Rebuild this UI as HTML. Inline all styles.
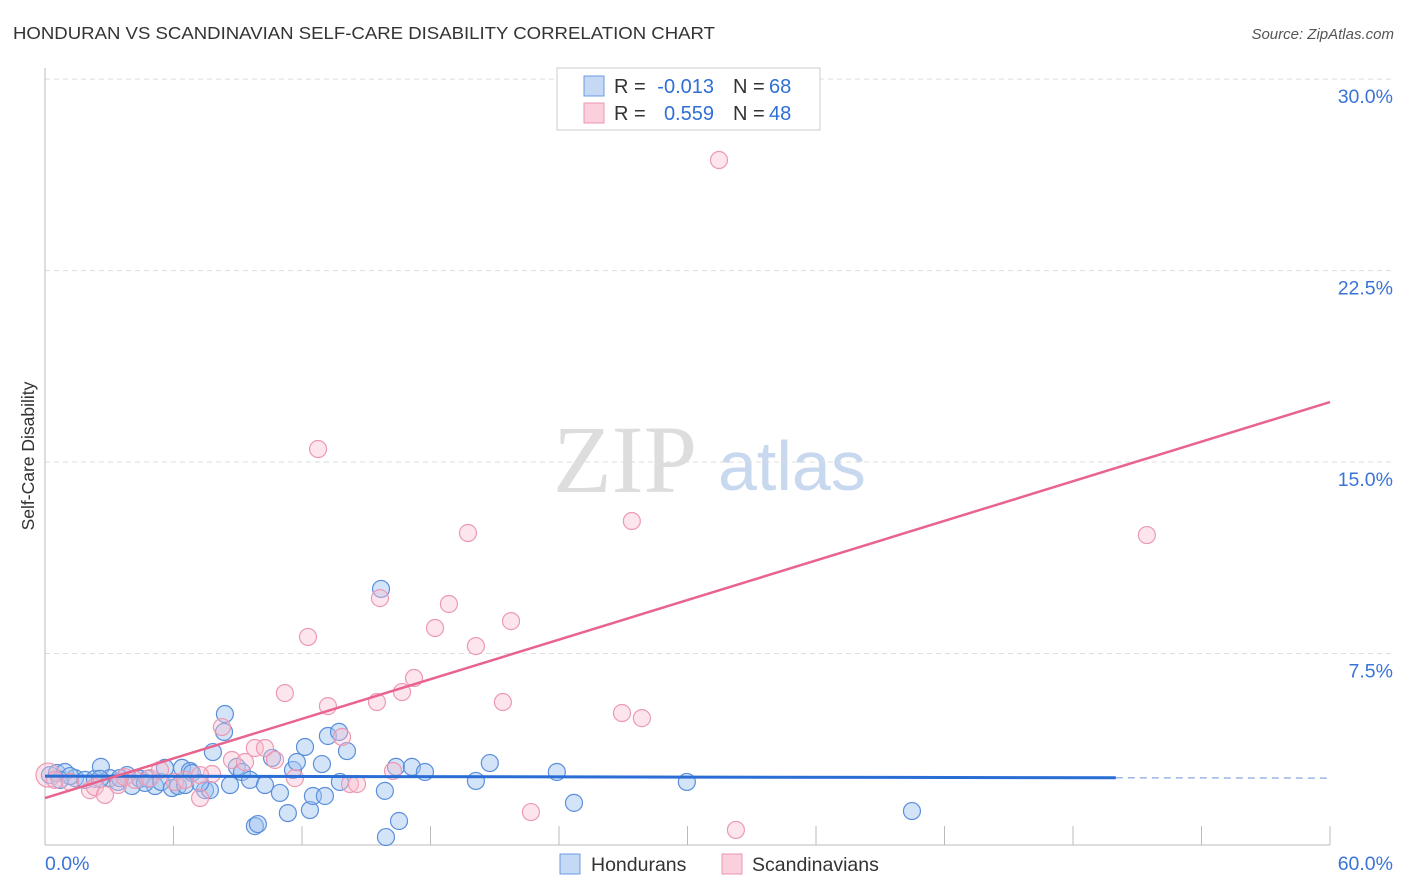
<!DOCTYPE html>
<html><head><meta charset="utf-8"><style>
body{margin:0;background:#fff;font-family:"Liberation Sans",sans-serif;}
svg{display:block}
</style></head><body>
<svg id="c" width="1406" height="892">
<text x="13" y="39" font-size="17.5" fill="#333" textLength="702" lengthAdjust="spacingAndGlyphs">HONDURAN VS SCANDINAVIAN SELF-CARE DISABILITY CORRELATION CHART</text>
<text x="1394" y="39" font-size="15" fill="#555" font-style="italic" text-anchor="end">Source: ZipAtlas.com</text>
<text transform="translate(34,456) rotate(-90)" font-size="17.5" fill="#333" text-anchor="middle">Self-Care Disability</text>
<g>
<text x="553" y="492" font-family="Liberation Serif,serif" font-size="96" fill="#ddd">ZIP</text>
<text x="718" y="490" font-size="70" fill="#c7d8ef">atlas</text>
</g>
<g id="grid"></g><g id="axes"></g><g id="pts"></g><g id="lines"></g>
<g>
<rect x="557" y="68" width="263" height="62" fill="#fff" stroke="#ccc"/>
<rect x="584" y="76" width="20" height="20" fill="#c5d9f5" stroke="#6a9be0"/>
<rect x="584" y="103" width="20" height="20" fill="#fbd0dc" stroke="#ee96b0"/>
<g font-size="20" fill="#333">
<text x="614" y="93">R =</text><text x="714" y="93" fill="#2f6fd6" text-anchor="end">-0.013</text>
<text x="733" y="93">N =</text><text x="769" y="93" fill="#2f6fd6">68</text>
<text x="614" y="120">R =</text><text x="714" y="120" fill="#2f6fd6" text-anchor="end">0.559</text>
<text x="733" y="120">N =</text><text x="769" y="120" fill="#2f6fd6">48</text>
</g>
</g>
<g>
<rect x="560" y="854" width="20" height="20" fill="#c5d9f5" stroke="#6a9be0"/>
<text x="591" y="871" font-size="19.5" fill="#333">Hondurans</text>
<rect x="722" y="854" width="20" height="20" fill="#fbd0dc" stroke="#ee96b0"/>
<text x="752" y="871" font-size="19.5" fill="#333">Scandinavians</text>
</g>
</svg>
<script>
const yTicks=[7.5,15,22.5,30];
const yTickLabels=["7.5%","15.0%","22.5%","30.0%"];
const xTickVals=[6,12,18,24,30,36,42,48,54,60];
const blueX=[0.23,0.56,0.93,1.40,1.87,2.33,2.61,3.03,3.41,3.83,4.06,4.44,4.81,5.14,5.42,5.60,5.93,6.21,6.40,6.77,6.86,7.47,7.70,7.84,8.40,8.36,8.96,9.20,9.57,9.80,9.94,10.27,10.60,10.97,11.34,11.58,11.76,12.14,12.37,12.51,12.93,13.07,13.21,13.73,13.77,14.10,15.69,15.87,15.92,16.39,16.53,17.13,17.74,20.12,20.77,23.90,24.70,29.97,40.48,0.70,1.17,2.57,3.50,4.67,6.54,7.24,8.64];
const blueY=[2.74,2.82,2.86,2.62,2.55,2.59,3.06,2.62,2.47,2.74,2.31,2.59,2.59,2.31,2.47,3.02,2.23,2.31,3.02,2.90,2.82,2.15,2.15,3.64,5.13,4.43,3.06,2.86,2.55,0.74,0.82,2.35,3.41,2.04,1.25,2.94,3.25,3.84,1.37,1.92,3.17,1.92,4.27,4.43,2.47,3.68,10.03,2.12,0.31,3.06,0.94,3.06,2.86,2.51,3.21,2.86,1.65,2.47,1.33,2.55,2.70,2.59,2.62,2.43,2.35,2.43,2.35];
const pinkX=[0.14,0.47,1.17,2.10,2.33,2.80,3.41,3.73,4.20,4.90,5.37,6.07,6.54,7.24,7.80,8.26,8.73,9.34,9.80,10.27,10.74,11.20,11.67,12.28,12.75,13.21,13.87,14.24,14.57,15.50,15.64,16.25,16.67,17.23,18.21,18.86,19.75,20.12,21.38,21.76,22.69,26.94,27.40,27.87,31.47,32.26,51.45,7.24];
const pinkY=[2.74,2.55,2.47,2.15,2.27,1.96,2.35,2.66,2.55,2.62,2.94,2.47,2.55,1.84,2.78,4.62,3.33,3.25,3.80,3.80,3.33,5.95,2.62,8.15,15.51,5.44,4.23,2.39,2.39,5.60,9.67,2.90,5.99,6.54,8.50,9.44,12.22,7.79,5.60,8.77,1.29,5.17,12.69,4.97,26.83,0.59,12.14,2.74];
const blueFit=[2.7,2.62];
const pinkFit=[1.84,17.35];
const X=v=>45+v*(1285/60), Y=v=>845-v*25.53;
const NS="http://www.w3.org/2000/svg";
function mk(p,t,a){const e=document.createElementNS(NS,t);for(const k in a)e.setAttribute(k,a[k]);p.appendChild(e);return e;}
const grid=document.getElementById('grid'),axes=document.getElementById('axes'),pts=document.getElementById('pts'),lines=document.getElementById('lines');
yTicks.forEach((v,i)=>{
 const l=mk(grid,'line',{x1:45,x2:1393,y1:Y(v),y2:Y(v),stroke:'#ddd','stroke-dasharray':'5,4'});
 
 
 const t=mk(grid,'text',{x:1393,y:Y(v)+24,'font-size':19.5,fill:'#3a74d6','text-anchor':'end'});t.textContent=yTickLabels[i];
 
 
});
const ya=mk(axes,'line',{x1:45,x2:45,y1:68,y2:845,stroke:'#bbb'});


const xa=mk(axes,'line',{x1:45,x2:1330,y1:845,y2:845,stroke:'#bbb'});


xTickVals.forEach(v=>{const t=mk(axes,'line',{x1:X(v),x2:X(v),y1:826,y2:845,stroke:'#bbb'});
 
 });
const x0=mk(axes,'text',{x:45,y:870,'font-size':19.5,fill:'#3a74d6'});x0.textContent='0.0%';


const x1=mk(axes,'text',{x:1393,y:870,'font-size':19.5,fill:'#3a74d6','text-anchor':'end'});x1.textContent='60.0%';


blueX.forEach((v,i)=>{const c=mk(pts,'circle',{cx:X(v),cy:Y(blueY[i]),r:8.5,fill:'rgba(160,196,240,0.45)',stroke:'#5b8fdc','stroke-width':1.2});
 
 });
pinkX.forEach((v,i)=>{const c=mk(pts,'circle',{cx:X(v),cy:Y(pinkY[i]),r:i==0?12:8.5,fill:'rgba(248,190,208,0.4)',stroke:'#ec9ab3','stroke-width':1.2});
 
 });
const bAt=x=>blueFit[0]+(blueFit[1]-blueFit[0])*x/60;
const bl=mk(lines,'line',{x1:X(0),y1:Y(bAt(0)),x2:X(50),y2:Y(bAt(50)),stroke:'#2a6dd4','stroke-width':3});


const bd=mk(lines,'line',{x1:X(50),y1:Y(bAt(50)),x2:X(60),y2:Y(bAt(60)),stroke:'#9bb8e6','stroke-width':1.5,'stroke-dasharray':'7,5'});


const pl=mk(lines,'line',{x1:X(0),y1:Y(pinkFit[0]),x2:X(60),y2:Y(pinkFit[1]),stroke:'#e8648f','stroke-width':2.5});


</script>
</body></html>
